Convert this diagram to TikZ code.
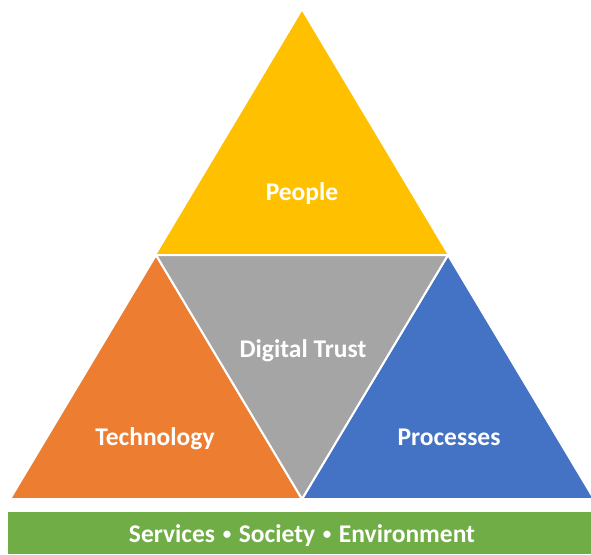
\documentclass[tikz,border=0pt]{standalone}
\usepackage{fontspec}
\setmainfont{Carlito}
\definecolor{cyellow}{HTML}{FFC000}
\definecolor{corange}{HTML}{ED7D31}
\definecolor{cgray}{HTML}{A5A5A5}
\definecolor{cblue}{HTML}{4472C4}
\definecolor{cgreen}{HTML}{70AD47}
% small centred separator dot with word spaces around it
\newcommand{\sepdot}{\hspace{0.3em}{\fontsize{17}{17}\selectfont\raisebox{2.5pt}{•}}\hspace{0.3em}}
\begin{document}
\begin{tikzpicture}[x=1pt,y=-1pt,
  facet/.style={draw=white,line width=2pt,line join=miter},
  label/.style={text=white,font=\bfseries\fontsize{25.5}{30}\selectfont,anchor=base,inner sep=0pt}]
\useasboundingbox (0,0) rectangle (591,554);
\begin{scope}
\clip (0,0) rectangle (591,554);
% four triangles of the pyramid
\fill[cyellow,facet] (302,9) -- (449,255) -- (155,255) -- cycle;
\fill[corange,facet] (156,255) -- (302,499) -- (10,499) -- cycle;
\fill[cblue,facet] (448,255) -- (594,499) -- (302,499) -- cycle;
\fill[cgray,facet] (156,255) -- (448,255) -- (302,499) -- cycle;
% base bar
\fill[cgreen] (8,512) rectangle (591,554);
\end{scope}
\node[label] (people) at (302,200) {People};
\node[label] (trust) at (303,357) {Digital Trust};
\node[label] (tech) at (155,445) {Technology};
\node[label] (proc) at (449,445) {Processes};
\node[label] (base) at (302,542) {Services\sepdot Society\sepdot Environment};
\end{tikzpicture}
\end{document}
